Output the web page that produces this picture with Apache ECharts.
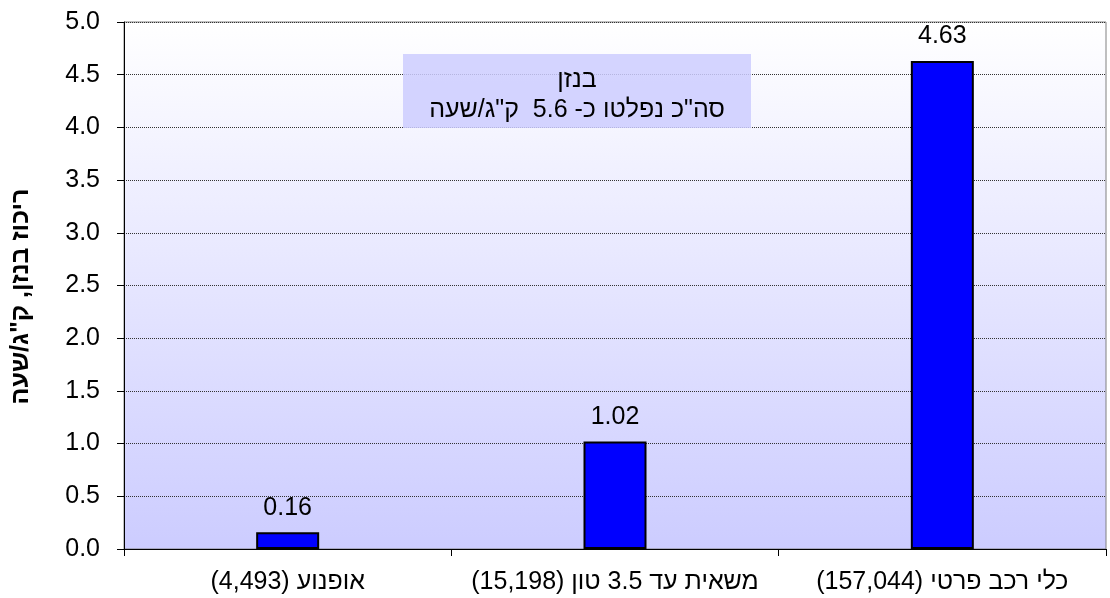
<!DOCTYPE html>
<html>
<head>
<meta charset="utf-8">
<script src="https://cdn.jsdelivr.net/npm/echarts@6/dist/echarts.min.js"></script>
<style>
  html, body { margin: 0; padding: 0; background: #fff; }
  #chart { width: 1110px; height: 598px; }
</style>
</head>
<body>
<div id="chart" dir="rtl"></div>
<script>
const categories = ['אופנוע (4,493)', 'משאית עד 3.5 טון (15,198)', 'כלי רכב פרטי (157,044)']
const values = [0.16, 1.02, 4.63]
const yTicks = { min: 0, max: 5, interval: 0.5 }
const yName = 'ריכוז בנזן, ק"ג/שעה'
const noteLines = ['בנזן', 'סה"כ נפלטו כ- 5.6  ק"ג/שעה']

const font = 'Liberation Sans, Arial, DejaVu Sans, sans-serif'

const option = {
  animation: false,
  grid: {
    left: 124,
    right: 4,
    top: 22,
    bottom: 49,
    show: true,
    borderColor: '#808080',
    borderWidth: 1,
    backgroundColor: new echarts.graphic.LinearGradient(0, 0, 0, 1, [
      { offset: 0, color: '#ffffff' },
      { offset: 1, color: '#ccccff' }
    ])
  },
  xAxis: {
    type: 'category',
    data: categories,
    axisLine: { lineStyle: { color: '#000', width: 1 } },
    axisTick: { show: true, length: 7, lineStyle: { color: '#000' } },
    axisLabel: { color: '#000', fontSize: 25, fontFamily: font, margin: 21, interval: 0 },
    splitLine: { show: false }
  },
  yAxis: {
    type: 'value',
    min: yTicks.min,
    max: yTicks.max,
    interval: yTicks.interval,
    name: yName,
    nameLocation: 'middle',
    nameRotate: 90,
    nameGap: 90,
    nameTextStyle: {
      color: '#000', fontSize: 25, fontWeight: 'bold', fontFamily: font,
      padding: [0, 22, 0, 0]
    },
    axisLine: { show: true, lineStyle: { color: '#000', width: 1 } },
    axisTick: { show: true, length: 7, lineStyle: { color: '#000' } },
    axisLabel: {
      color: '#000', fontSize: 25, fontFamily: font, margin: 24,
      formatter: v => v.toFixed(1)
    },
    splitLine: { show: true, lineStyle: { color: '#333', width: 1, type: [1, 1] } }
  },
  graphic: [
    {
      type: 'rect',
      left: 403,
      top: 54,
      shape: { width: 348, height: 74 },
      style: { fill: 'rgba(204,204,255,0.85)' },
      z: 10
    },
    {
      // note text, centred on the box
      type: 'text',
      x: 577,
      y: 65,
      style: {
        text: noteLines.join('\n'),
        align: 'center',
        verticalAlign: 'top',
        font: '25px ' + font,
        lineHeight: 30,
        fill: '#000'
      },
      z: 11
    }
  ],
  series: [
    {
      type: 'bar',
      data: values,
      barWidth: 63,
      itemStyle: { color: '#0000ff', borderColor: '#000', borderWidth: 2 },
      label: {
        show: true,
        position: 'top',
        distance: 12,
        color: '#000',
        fontSize: 25,
        fontFamily: font,
        formatter: p => p.value.toFixed(2)
      }
    }
  ]
}

const myChart = echarts.init(document.getElementById('chart'), null, { renderer: 'canvas' })
myChart.setOption(option)
window.addEventListener('resize', myChart.resize)
</script>
</body>
</html>
